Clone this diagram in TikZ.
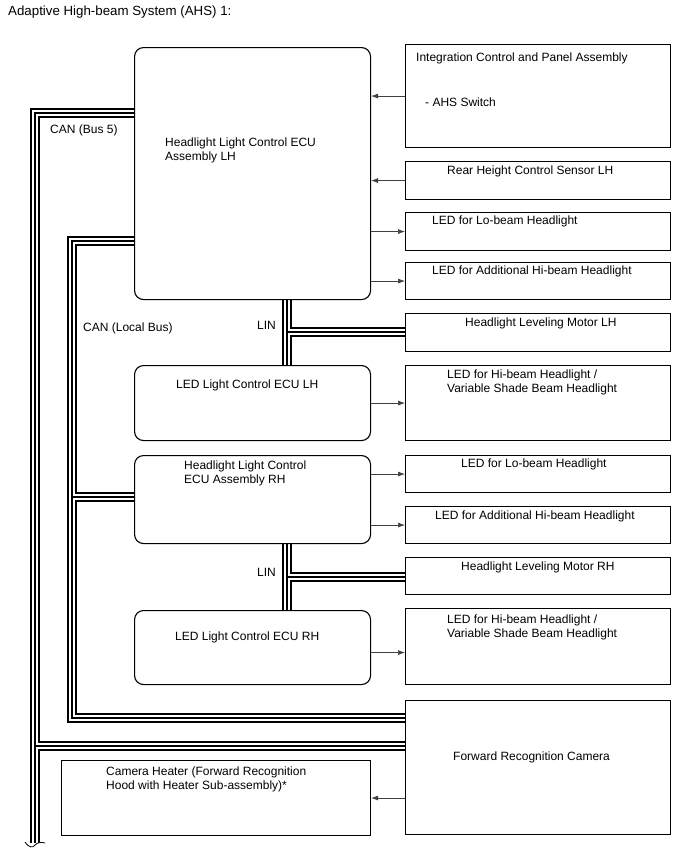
\documentclass[tikz,border=0pt]{standalone}
\usepackage{fontspec}
\setmainfont{Liberation Sans}
\usetikzlibrary{positioning,arrows.meta,backgrounds}

\begin{document}
\begin{tikzpicture}[x=1pt,y=-1pt,
    box/.style={draw,line width=1.1pt,anchor=north west,inner sep=0pt,minimum width=265pt},
    ecu/.style={box,rounded corners=9pt,minimum width=236pt},
    txt/.style={anchor=west,inner sep=0pt,align=left,font=\fontsize{12}{14}\selectfont},
    arr/.style={-{Latex[length=7pt,width=5pt]},line width=0.6pt,black!75},
    busout/.style={line width=10pt,black},
    busgap/.style={line width=6pt,white},
    buscore/.style={line width=2.2pt,black}]

    \useasboundingbox (0,0) rectangle (688,852);

    % title
    \node[txt,font=\fontsize{13.3}{16}\selectfont] (title) at (8,12) {Adaptive High-beam System (AHS) 1:};

    % ECUs
    \node[ecu,minimum height=252pt] (ecuL) at (134,47) {};
    \node[ecu,minimum height=75pt] (ledL) at (134,365) {};
    \node[ecu,minimum height=88pt] (ecuR) at (134,455) {};
    \node[ecu,minimum height=74pt] (ledR) at (134,610) {};

    % right column
    \node[box,minimum height=103pt] (icp) at (405,44) {};
    \node[box,minimum height=38pt] (rear) at (405,161) {};
    \node[box,minimum height=38pt] (loL) at (405,212) {};
    \node[box,minimum height=37pt] (addL) at (405,262) {};
    \node[box,minimum height=38pt] (motL) at (405,313) {};
    \node[box,minimum height=75pt] (hiL) at (405,365) {};
    \node[box,minimum height=37pt] (loR) at (405,455) {};
    \node[box,minimum height=37pt] (addR) at (405,506) {};
    \node[box,minimum height=37pt] (motR) at (405,557) {};
    \node[box,minimum height=76pt] (hiR) at (405,608) {};
    \node[box,minimum height=134pt] (cam) at (405,700) {};
    \node[box,minimum width=309pt,minimum height=75pt] (heat) at (61,760) {};

    % texts
    \node[txt] (tEcuL) at (165,150) {Headlight Light Control ECU\\Assembly LH};
    \node[txt] (tLedL) at (176,385) {LED Light Control ECU LH};
    \node[txt] (tEcuR) at (184,473) {Headlight Light Control\\ECU Assembly RH};
    \node[txt] (tLedR) at (175,637) {LED Light Control ECU RH};
    \node[txt] (tIcp) at (416,58) {Integration Control and Panel Assembly};
    \node[txt] (tSw) at (425,102) {- AHS Switch};
    \node[txt] (tRear) at (447,171) {Rear Height Control Sensor LH};
    \node[txt] (tLoL) at (432,221) {LED for Lo-beam Headlight};
    \node[txt] (tAddL) at (432,271) {LED for Additional Hi-beam Headlight};
    \node[txt] (tMotL) at (465,323) {Headlight Leveling Motor LH};
    \node[txt] (tHiL) at (447,382) {LED for Hi-beam Headlight /\\Variable Shade Beam Headlight};
    \node[txt] (tLoR) at (461,464) {LED for Lo-beam Headlight};
    \node[txt] (tAddR) at (435,516) {LED for Additional Hi-beam Headlight};
    \node[txt] (tMotR) at (461,567) {Headlight Leveling Motor RH};
    \node[txt] (tHiR) at (447,627) {LED for Hi-beam Headlight /\\Variable Shade Beam Headlight};
    \node[txt] (tCam) at (453,757) {Forward Recognition Camera};
    \node[txt] (tHeat) at (106,779) {Camera Heater (Forward Recognition\\Hood with Heater Sub-assembly)*};
    \node[txt] (tBus5) at (50,130) {CAN (Bus 5)};
    \node[txt] (tLocal) at (83,328) {CAN (Local Bus)};
    \node[txt] (tLinL) at (257,325) {LIN};
    \node[txt] (tLinR) at (257,572) {LIN};

    % signal arrows
    \draw[arr] (icp.west) -- (icp.west -| ecuL.east);
    \draw[arr] (rear.west) -- (rear.west -| ecuL.east);
    \draw[arr] (loL.west -| ecuL.east) -- (loL.west);
    \draw[arr] (addL.west -| ecuL.east) -- (addL.west);
    \draw[arr] (ledL.east) -- (hiL.west);
    \draw[arr] (loR.west -| ecuR.east) -- (loR.west);
    \draw[arr] (addR.west -| ecuR.east) -- (addR.west);
    \draw[arr] ([yshift=-5pt]ledR.east) -- ([yshift=-5pt]ledR.east -| hiR.west);
    \draw[arr] (heat.east -| cam.west) -- (heat.east);

    % buses
    \coordinate (b5top) at (35,113);
    \coordinate (b5j) at (35,746);
    \coordinate (b5end) at (35,843);
    \coordinate (lbtop) at (72,241);
    \coordinate (lbj) at (72,497);
    \coordinate (lbbot) at (72,718);
    \coordinate (linL) at (287,332);
    \coordinate (linR) at (287,577);

    \begin{scope}[on background layer]
        \foreach \layer in {busout,busgap,buscore}{
            \draw[\layer] (b5top -| ecuL.west) -- (b5top) -- (b5j) -- (b5j -| cam.west);
            \draw[\layer] (b5j) -- (b5end);
            \draw[\layer] (lbtop -| ecuL.west) -- (lbtop) -- (lbbot) -- (lbbot -| cam.west);
            \draw[\layer] (lbj) -- (lbj -| ecuR.west);
            \draw[\layer] (linL |- ecuL.south) -- (linL |- ledL.north);
            \draw[\layer] (linL) -- (linL -| motL.west);
            \draw[\layer] (linR |- ecuR.south) -- (linR |- ledR.north);
            \draw[\layer] (linR) -- (linR -| motR.west);
        }
    \end{scope}

    % cut end of bus 5
    \draw[line width=0.8pt] ([xshift=-10pt,yshift=1pt]b5end) .. controls ([xshift=-6pt,yshift=-5pt]b5end) and ([xshift=-2pt,yshift=-5pt]b5end) .. ([yshift=-2pt]b5end)
        .. controls ([xshift=3pt,yshift=1pt]b5end) and ([xshift=6pt,yshift=1pt]b5end) .. ([xshift=10pt]b5end);

\end{tikzpicture}
\end{document}
